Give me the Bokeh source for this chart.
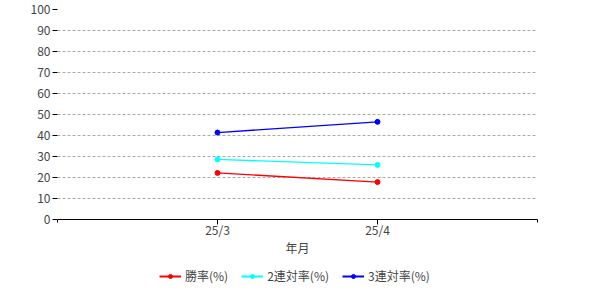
from bokeh.plotting import figure
from bokeh.layouts import column
from bokeh.models import FixedTicker, Legend, LegendItem, Range1d
from bokeh.embed import file_html
from bokeh.resources import INLINE

months = ["25/3", "25/4"]
x_pos = [1, 2]
win = [22.2, 17.8]
place2 = [28.6, 26.0]
place3 = [41.4, 46.5]
series_names = ["勝率(%)", "2連対率(%)", "3連対率(%)"]
colors = ["#FF0000", "#00FFFF", "#0000FF"]
y_ticks = list(range(0, 101, 10))

FONT = "Noto Sans CJK JP"

p = figure(width=600, height=262, output_backend="svg", toolbar_location=None,
           x_range=Range1d(0, 3), y_range=Range1d(0, 100),
           min_border_left=57, min_border_right=63, min_border_top=9, min_border_bottom=43)
p.outline_line_color = None
p.background_fill_color = "white"

for ys, c in zip([win, place2, place3], colors):
    p.line(x_pos, ys, line_color=c, line_width=1.3)
    p.scatter(x_pos, ys, size=5, fill_color=c, line_color=c)

xa = p.xaxis[0]
xa.ticker = FixedTicker(ticks=x_pos, minor_ticks=[0, 3])
xa.major_label_overrides = {1: months[0], 2: months[1]}
xa.axis_label = "年月"
xa.axis_label_text_font = FONT
xa.axis_label_text_font_size = "12px"
xa.axis_label_text_font_style = "normal"
xa.axis_label_standoff = -2
xa.major_label_text_font = FONT
xa.major_label_text_font_size = "12px"
xa.major_label_standoff = -4
xa.axis_line_color = "black"
xa.major_tick_line_color = "black"
xa.minor_tick_line_color = "black"
xa.major_tick_out = 5
xa.major_tick_in = 0
xa.minor_tick_out = 3
xa.minor_tick_in = 0

ya = p.yaxis[0]
ya.ticker = FixedTicker(ticks=y_ticks)
ya.axis_line_color = None
ya.major_tick_out = 5
ya.major_tick_in = 0
ya.minor_tick_line_color = None
ya.major_tick_line_color = "black"
ya.major_label_text_font = FONT
ya.major_label_text_font_size = "12px"
ya.major_label_standoff = 2

p.xgrid.grid_line_color = None
p.ygrid.ticker = FixedTicker(ticks=y_ticks[1:])
p.ygrid.grid_line_color = "#AAAAAA"
p.ygrid.grid_line_dash = "3 2"

# legend strip below the chart (sample renderers sit outside its visible range)
lg = figure(width=600, height=38, output_backend="svg", toolbar_location=None,
            x_range=Range1d(0, 1), y_range=Range1d(0, 1),
            x_axis_location=None, y_axis_location=None,
            min_border_left=0, min_border_right=0, min_border_top=0, min_border_bottom=0)
lg.grid.visible = False
lg.outline_line_color = None
items = []
for n, c in zip(series_names, colors):
    l = lg.line([5, 6], [5, 6], line_color=c, line_width=2)
    s = lg.scatter([5.5], [5.5], size=3, fill_color=c, line_color=c)
    items.append(LegendItem(label=n, renderers=[l, s]))
legend = Legend(items=items, orientation="horizontal", location=(102, 16),
                border_line_color=None, background_fill_alpha=0,
                label_text_font=FONT, label_text_font_size="12px",
                glyph_width=22, glyph_height=10, label_standoff=4, spacing=13,
                padding=0, margin=0)
lg.add_layout(legend, "center")

layout = column(p, lg, spacing=0)
open("out.html", "w").write(file_html(layout, INLINE))
